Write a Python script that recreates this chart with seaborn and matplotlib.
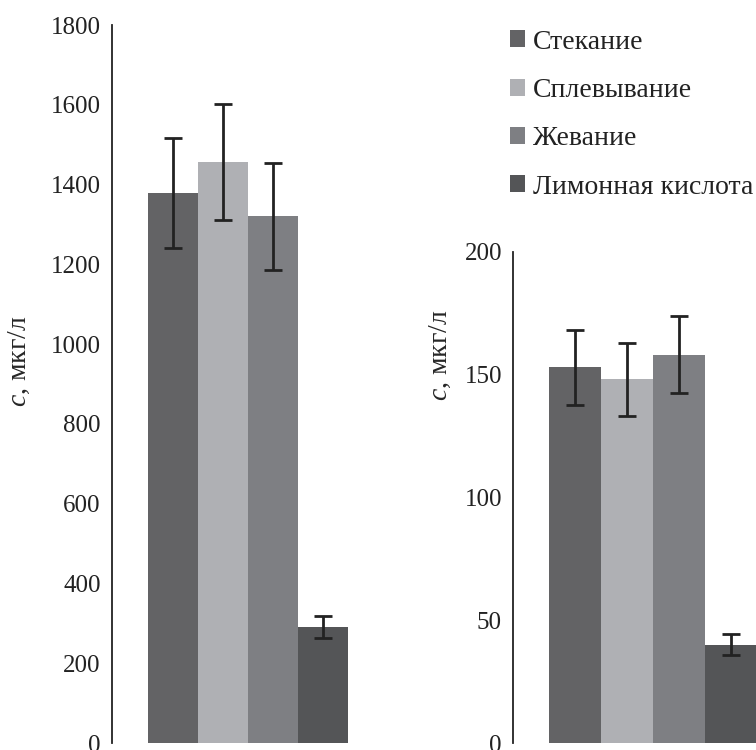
import numpy as np
import pandas as pd
import matplotlib
matplotlib.use('Agg')
import matplotlib.pyplot as plt
from matplotlib.patches import Patch
import seaborn as sns

# data
methods = ['Стекание', 'Сплевывание', 'Жевание', 'Лимонная кислота']
left_mean = [1380, 1457, 1320, 290]
left_err = [138, 145, 133, 28]
right_mean = [153, 148, 158, 40]
right_err = [15.3, 14.8, 15.7, 4.2]
colors = ['#636365', '#afb0b4', '#7e7f83', '#545557']
left_ticks = [0, 200, 400, 600, 800, 1000, 1200, 1400, 1600, 1800]
right_ticks = [0, 50, 100, 150, 200]

df = pd.DataFrame({'method': methods,
                   'left': left_mean, 'left_err': left_err,
                   'right': right_mean, 'right_err': right_err})

sns.set_style("white")
plt.rcParams['font.family'] = ['Liberation Serif', 'DejaVu Serif']
plt.rcParams['mathtext.fontset'] = 'custom'
plt.rcParams['mathtext.it'] = 'Liberation Serif:italic'
plt.rcParams['mathtext.rm'] = 'Liberation Serif'
plt.rcParams['text.color'] = '#222222'

fig = plt.figure(figsize=(7.56, 7.5), dpi=100)
ax1 = fig.add_axes([0.1478, 0.00933, 0.3284, 0.9573])
ax2 = fig.add_axes([0.6786, 0.00933, 0.3214, 0.655])


def draw(ax, col, ticks, ylim, xlim, label_xy):
    sns.barplot(data=df, x='method', y=col, hue='method', palette=colors,
                width=1.0, saturation=1, ax=ax, legend=False, linewidth=0)
    xs = [p.get_x() + p.get_width() / 2 for p in ax.patches]
    ax.errorbar(xs, df[col], yerr=df[col + '_err'], fmt='none',
                ecolor='#222222', elinewidth=2, capsize=6.5, capthick=2)
    ax.set_ylim(*ylim)
    ax.set_xlim(*xlim)
    ax.set_yticks(ticks)
    ax.set_xticks([])
    ax.set_xlabel('')
    ax.set_ylabel('$c$, мкг/л', fontsize=20)
    ax.yaxis.set_label_coords(*label_xy)
    for s in ['top', 'right', 'bottom']:
        ax.spines[s].set_visible(False)
    ax.spines['left'].set_linewidth(1.3)
    ax.spines['left'].set_color('#222222')
    ax.tick_params(axis='y', direction='in', length=6, width=1.3,
                   pad=8, labelsize=18, colors='#222222')
    ax.patch.set_alpha(0)


draw(ax1, 'left', left_ticks, (0, 1800), (-1.232, 3.74), (-0.321, 0.532))
draw(ax2, 'right', right_ticks, (0, 200), (-1.19, 3.48), (-0.247, 0.79))

handles = [Patch(facecolor=c, edgecolor='none') for c in colors]
fig.legend(handles, methods, loc='upper left', bbox_to_anchor=(0.6746, 0.9605),
           frameon=False, fontsize=20, handlelength=0.55, handleheight=0.55,
           handletextpad=0.28, labelspacing=0.84, borderpad=0, borderaxespad=0)

fig.savefig('out.png', dpi=100)
